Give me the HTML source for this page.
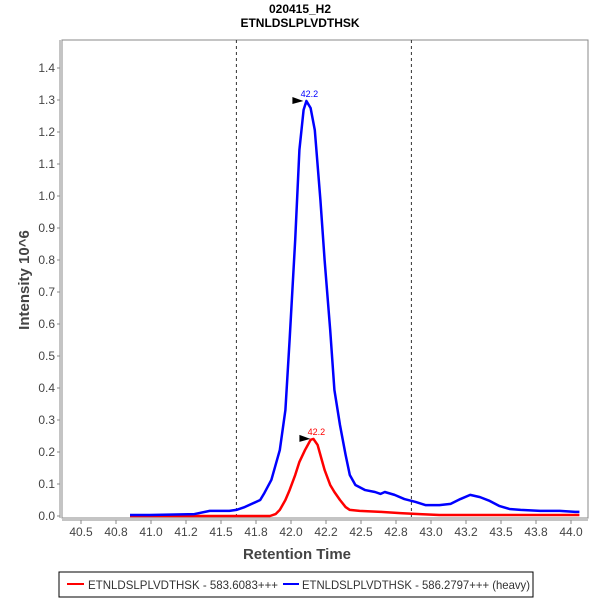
<!DOCTYPE html>
<html><head><meta charset="utf-8"><style>
body{margin:0;background:#fff;font-family:"Liberation Sans",sans-serif}
</style></head><body>
<svg width="600" height="600" xmlns="http://www.w3.org/2000/svg" font-family="Liberation Sans, sans-serif">
<rect width="600" height="600" fill="#fff"/>
<text x="300" y="13" font-size="12" font-weight="bold" text-anchor="middle">020415_H2</text>
<text x="300" y="27" font-size="12" font-weight="bold" text-anchor="middle">ETNLDSLPLVDTHSK</text>
<rect x="62" y="40" width="526" height="478" fill="#fff" stroke="#888"/>
<g id="yaxis"></g>
<g id="xaxis"></g>
<g id="marks"></g>
<text x="297" y="559" font-size="15" font-weight="bold" fill="#444" text-anchor="middle">Retention Time</text>
<text transform="translate(29,280) rotate(-90)" font-size="15" font-weight="bold" fill="#444" text-anchor="middle">Intensity 10^6</text>
<g>
<rect x="59" y="572" width="474" height="25" fill="#fff" stroke="#000"/>
<g><line x1="67" y1="584" x2="84" y2="584" stroke="red" stroke-width="2"/>
<text x="88" y="589" font-size="12" fill="#333" textLength="190" lengthAdjust="spacingAndGlyphs">ETNLDSLPLVDTHSK - 583.6083+++</text></g>
<g><line x1="283" y1="584" x2="299" y2="584" stroke="blue" stroke-width="2"/>
<text x="302" y="589" font-size="12" fill="#333" textLength="228" lengthAdjust="spacingAndGlyphs">ETNLDSLPLVDTHSK - 586.2797+++ (heavy)</text></g>
</g>
</svg>
<script>
const xTicks=[40.5,40.75,41.0,41.25,41.5,41.75,42.0,42.25,42.5,42.75,43.0,43.25,43.5,43.75,44.0];
const xTickLabels=["40.5","40.8","41.0","41.2","41.5","41.8","42.0","42.2","42.5","42.8","43.0","43.2","43.5","43.8","44.0"];
const yTicks=[0,0.1,0.2,0.3,0.4,0.5,0.6,0.7,0.8,0.9,1.0,1.1,1.2,1.3,1.4];
const heavyRT=[40.85,40.99,41.31,41.42,41.56,41.61,41.67,41.78,41.81,41.86,41.92,41.96,41.99,42.03,42.06,42.09,42.11,42.14,42.17,42.21,42.24,42.28,42.31,42.35,42.39,42.42,42.46,42.53,42.6,42.64,42.67,42.74,42.81,42.89,42.96,43.06,43.14,43.21,43.28,43.35,43.42,43.49,43.56,43.64,43.78,43.92,44.03,44.06];
const heavyInt=[0.003,0.003,0.006,0.016,0.016,0.019,0.028,0.05,0.072,0.113,0.206,0.331,0.55,0.863,1.144,1.269,1.297,1.275,1.206,0.988,0.8,0.581,0.394,0.284,0.191,0.128,0.097,0.081,0.075,0.069,0.075,0.066,0.053,0.044,0.034,0.034,0.038,0.053,0.066,0.059,0.047,0.031,0.022,0.019,0.016,0.016,0.013,0.013];
const lightRT=[40.85,41.85,41.89,41.92,41.96,41.99,42.03,42.06,42.1,42.14,42.16,42.19,42.22,42.24,42.28,42.31,42.35,42.39,42.42,42.49,42.64,42.78,42.92,43.06,44.06];
const lightInt=[0,0,0.006,0.019,0.05,0.081,0.128,0.169,0.206,0.238,0.241,0.222,0.175,0.144,0.097,0.075,0.05,0.028,0.019,0.016,0.013,0.009,0.006,0.003,0.003];
const boundaries=[41.61,42.86];
const peakLabels=["42.2","42.2"];
const NS="http://www.w3.org/2000/svg";
const xs=v=>81+(v-40.5)*140, ys=v=>516-v*320;
function mk(t,a,p){const e=document.createElementNS(NS,t);for(const k in a)e.setAttribute(k,a[k]);p.appendChild(e);return e;}
const ya=document.getElementById('yaxis'),xa=document.getElementById('xaxis'),mg=document.getElementById('marks');
mk('line',{x1:60,y1:40,x2:60,y2:518,stroke:'#888'},ya);
yTicks.forEach(v=>{mk('line',{x1:57,y1:ys(v),x2:60,y2:ys(v),stroke:'#888'},ya);
const t=mk('text',{x:55,y:ys(v)+4,'font-size':12,fill:'#444','text-anchor':'end'},ya);t.textContent=v.toFixed(1);

});
mk('line',{x1:62,y1:520,x2:588,y2:520,stroke:'#888'},xa);
xTicks.forEach((v,i)=>{mk('line',{x1:xs(v),y1:520,x2:xs(v),y2:524,stroke:'#888'},xa);
const t=mk('text',{x:xs(v),y:536,'font-size':12,fill:'#444','text-anchor':'middle'},xa);t.textContent=xTickLabels[i];

});
boundaries.forEach(b=>{const l=mk('line',{x1:xs(b),y1:40,x2:xs(b),y2:518,stroke:'#333','stroke-dasharray':'3,3'},mg);

});
function series(rt,iv,col,name,lbl){
const p=mk('polyline',{points:rt.map((r,i)=>xs(r)+','+ys(iv[i])).join(' '),fill:'none',stroke:col,'stroke-width':2.5,'stroke-linejoin':'round'},mg);


let m=0;iv.forEach((v,i)=>{if(v>iv[m])m=i;});
const px=xs(rt[m]),py=ys(iv[m]);
mk('polygon',{points:`${px-14},${py-4} ${px-3},${py} ${px-14},${py+3}`,fill:'#000'},mg);
const t=mk('text',{x:px+3,y:py-4,'font-size':9,fill:col,'text-anchor':'middle'},mg);t.textContent=lbl;

}
series(lightRT,lightInt,'red','light-series',peakLabels[0]);
series(heavyRT,heavyInt,'blue','heavy-series',peakLabels[1]);
</script>
</body></html>
